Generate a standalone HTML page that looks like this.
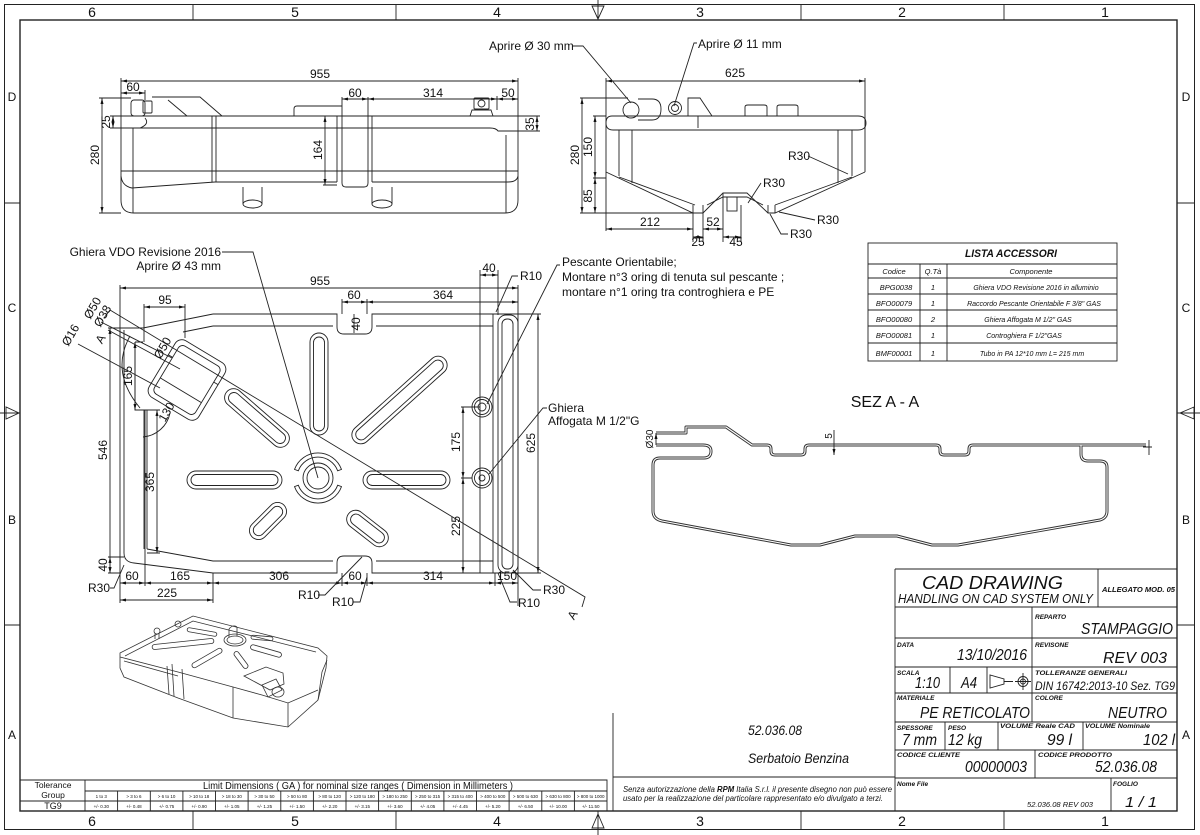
<!DOCTYPE html>
<html><head><meta charset="utf-8">
<style>
html,body{margin:0;padding:0;background:#fff;width:1200px;height:835px;overflow:hidden}
svg{display:block}
text{font-family:"Liberation Sans",Arial,sans-serif;fill:#111;stroke:none}
.d{font-size:12px}
.m{text-anchor:middle}
.e{text-anchor:end}
.i{font-style:italic}
.t{font-size:6.5px;font-style:italic;font-weight:bold}
.v{font-size:16px;font-style:italic}
</style></head><body>
<svg xmlns="http://www.w3.org/2000/svg" width="1200" height="835" viewBox="0 0 1200 835">
<defs><marker id="a" viewBox="0 0 8 4" refX="8" refY="2" markerWidth="7" markerHeight="3" markerUnits="userSpaceOnUse" orient="auto-start-reverse"><path d="M0,0L8,2L0,4z" fill="#111"/></marker></defs>
<rect width="1200" height="835" fill="#fff"/>
<g fill="none" stroke="#222" stroke-width="0.9">
<!-- FRAME -->
<rect x="4.5" y="4.5" width="1190" height="825" stroke-width="1"/>
<rect x="20" y="20" width="1157" height="791" stroke-width="1.4"/>
<path d="M193,4 V20 M396,4 V20 M801,4 V20 M1004,4 V20 M193,811 V829 M396,811 V829 M801,811 V829 M1004,811 V829 M4,203 H20 M4,625 H20 M1177,203 H1195 M1177,625 H1195"/>
<path d="M598,0 V20 M592,6 H604 L598,19 Z M598,811 V835 M592,828 H604 L598,814 Z M0,413 H20 M6,407 V419 L19,413 Z M1177,413 H1200 M1194,407 V419 L1180,413 Z"/>

<!-- FRONT VIEW -->
<path d="M121,78 V200 Q121,213 134,213 H505 Q518,213 518,200 V78"/>
<path d="M121,116 H540 M121,128 H490 Q496,128 498,131 H540"/>
<path d="M133,128 V213 M506,135 V213"/>
<path d="M121,171 H518"/>
<path d="M121,176 Q122,186 132,188 L215,182 H337 M372,182 H508 Q517,182 518,176"/>
<path d="M212,116 V182 M216,116 V182"/>
<path d="M337,116 V182 M372,116 V182 M342,97 V183 Q342,187 346,187 H364 Q368,187 368,183 V97"/>
<path d="M294,116 V109 Q294,106 297,106 H342"/>
<path d="M243,187 V204 M262,187 V204 M372,187 V204 M392,187 V204"/>
<ellipse cx="252.5" cy="204" rx="9.5" ry="4"/><ellipse cx="382" cy="204" rx="10" ry="4"/>
<rect x="131" y="100" width="14" height="16" rx="3"/>
<rect x="143" y="101" width="9" height="12" rx="1"/>
<path d="M152,97 H200 L222,116 M168,100 L187,116 M145,118 Q150,124 140,128"/>
<rect x="474" y="98" width="15" height="11" rx="1"/>
<circle cx="481.5" cy="103.5" r="3.5"/>
<path d="M470,116 L472,110 H491 L493,116"/>
<g marker-start="url(#a)" marker-end="url(#a)">
<path d="M121,81 H518"/><path d="M121,93 H145"/><path d="M102,98 V213"/><path d="M113,116 V128"/>
<path d="M325,116 V185"/><path d="M342,99 H368"/><path d="M368,99 H497"/><path d="M497,99 H518"/><path d="M537,116 V131"/>
</g>
<path d="M145,90 V100 M99,98 H131 M99,213 H121 M110,116 H121 M110,128 H121 M323,185 H337 M497,96 V110"/>

<!-- SIDE VIEW -->
<path d="M572,46 H583 L631,103"/>
<path d="M697,43 H694 L674,106"/>
<path d="M606,78 V231 M865,78 V172"/>
<path d="M612,116 H858 Q866,116 866,123 Q866,130 858,130 H613 Q606,130 606,123 Q606,116 612,116 Z"/>
<path d="M619,130 V176 M632,130 V183 M838,130 V183 M852,130 V176"/>
<path d="M606,172 L693,213 H703 L723,193 H747 L768,213 H775 L865,172"/>
<path d="M619,177 L695,205 M707,205 L723,197 H747 L763,205 M775,205 L852,177 M693,205 V213 M703,205 V213 M768,205 V213 M775,205 V213"/>
<rect x="727" y="197" width="10" height="14"/>
<circle cx="631" cy="110" r="8"/>
<path d="M638,99 H652 Q661,99 661,109 Q661,120 652,120 H638"/>
<circle cx="675" cy="108" r="6.5"/><circle cx="675" cy="108" r="3.5"/>
<path d="M688,116 V98 H700 L712,116 M698,116 V128"/>
<path d="M745,116 V107 Q745,105 748,105 H764 Q767,105 767,107 V116 M777,116 V107 Q777,105 780,105 H795 Q798,105 798,107 V116"/>
<g marker-start="url(#a)" marker-end="url(#a)">
<path d="M606,81 H865"/><path d="M582,98 V213"/><path d="M595,116 V178"/><path d="M595,178 V213"/>
<path d="M606,229 H693"/><path d="M703,229 H723"/><path d="M693,237 H703"/><path d="M723,237 H741"/>
</g>
<path d="M580,98 H628 M580,213 H693 M593,116 H606 M593,178 H606 M693,213 V242 M703,213 V242 M723,193 V242 M741,205 V242"/>
<path d="M808,156 L848,174 M761,183 L748,203 M815,220 L779,212 M788,234 H781 L770,214"/>

<!-- ACCESSORY TABLE -->
<rect x="868" y="243" width="249" height="118"/>
<path d="M868,264 H1117 M868,278 H1117 M868,294 H1117 M868,310 H1117 M868,326 H1117 M868,343 H1117 M920,264 V361 M947,264 V361"/>

<!-- MAIN TOP VIEW -->
<path d="M120,285 V603 M518,285 V606"/>
<path d="M213,314 H337 V327 Q337,334 344,334 H365 Q372,334 372,327 V314 H518"/>
<path d="M213,326 H333 M376,326 H493"/>
<path d="M213,314 L143,328 M213,326 L183,332"/>
<path d="M124,330 V553 Q124,562 134,563 L213,573 H337 V563 Q337,556 344,556 H365 Q372,556 372,563 V573 H518"/>
<path d="M147,549 L213,561 H333 M376,561 H493"/>
<path d="M144,410 V549 M147,410 V549"/>
<path d="M135,342 V410 H147 M135,342 H143"/>
<path d="M493,314 V573"/>
<rect x="498" y="315" width="20" height="258" rx="8"/>
<rect x="502" y="319" width="11" height="250" rx="5"/>
<path d="M518,314 H541 M518,573 H541"/>
<path d="M480,270 V573 M498,270 V315"/>
<circle cx="482" cy="407" r="10"/><circle cx="482" cy="407" r="7.5"/><circle cx="482" cy="407" r="4"/>
<circle cx="482" cy="478" r="10"/><circle cx="482" cy="478" r="7.5"/><circle cx="482" cy="478" r="3"/>
<path d="M461,407 H480 M461,478 H472"/>
<path d="M342,299 V314 M367,299 V314 M144,304 V342 M185,304 V338"/>
<path d="M145,410 V586 M213,573 V603 M342,573 V586 M367,573 V586 M495,573 V586"/>
<path d="M108,328 H143 M108,557 H124 M108,573 H120 M147,410 H160 M147,553 H160"/>
<path d="M354,314 V333"/>
<g marker-start="url(#a)" marker-end="url(#a)">
<path d="M120,288 H518"/>
<path d="M538,314 V573"/>
<path d="M480,275 H498"/>
<path d="M463,407 V478"/><path d="M463,478 V573"/>
<path d="M342,302 H367"/><path d="M367,302 H518"/>
<path d="M144,307 H185"/>
<path d="M120,583 H145"/><path d="M145,583 H213"/><path d="M213,583 H342"/><path d="M342,583 H367"/><path d="M367,583 H495"/><path d="M495,583 H518"/>
<path d="M120,600 H213"/>
<path d="M110,328 V573"/><path d="M110,557 V573"/>
<path d="M135,342 V410"/><path d="M157,410 V553"/>
</g>
<!-- slots -->
<g transform="translate(319,384) rotate(90)"><rect x="-51" y="-9" width="102" height="18" rx="9"/><rect x="-47" y="-5.5" width="94" height="11" rx="5.5"/></g>
<g transform="translate(399.5,400) rotate(-42)"><rect x="-61" y="-9" width="122" height="18" rx="9"/><rect x="-57" y="-5.5" width="114" height="11" rx="5.5"/></g>
<g transform="translate(406.5,480)"><rect x="-43.5" y="-9" width="87" height="18" rx="9"/><rect x="-39.5" y="-5.5" width="79" height="11" rx="5.5"/></g>
<g transform="translate(367.5,528.5) rotate(38)"><rect x="-24" y="-9" width="48" height="18" rx="9"/><rect x="-20" y="-5.5" width="40" height="11" rx="5.5"/></g>
<g transform="translate(234.5,480)"><rect x="-47.5" y="-9" width="95" height="18" rx="9"/><rect x="-43.5" y="-5.5" width="87" height="11" rx="5.5"/></g>
<g transform="translate(257,418) rotate(41)"><rect x="-40" y="-9" width="80" height="18" rx="9"/><rect x="-36" y="-5.5" width="72" height="11" rx="5.5"/></g>
<g transform="translate(268,521) rotate(-45)"><rect x="-22.5" y="-9" width="45" height="18" rx="9"/><rect x="-18.5" y="-5.5" width="37" height="11" rx="5.5"/></g>
<!-- cap -->
<circle cx="318" cy="478" r="15"/><circle cx="318" cy="478" r="11"/>
<path d="M294.5,469.4 A25,25 0 0 1 341.5,469.4 L337.7,470.8 A21,21 0 0 0 298.3,470.8 Z"/>
<path d="M341.5,486.6 A25,25 0 0 1 294.5,486.6 L298.3,485.2 A21,21 0 0 0 337.7,485.2 Z"/>
<!-- filler block -->
<g transform="translate(187,380) rotate(31)"><rect x="-29" y="-33" width="58" height="66" rx="8"/><rect x="-24" y="-28" width="48" height="56" rx="5"/><path d="M-29,-12 H-24 M24,-12 H29 M-24,12 H24"/></g>
<path d="M130,336 Q110,372 140,408 M143,437 A30,30 0 0 0 170,413"/>
<path d="M101,322 L172,358 M108,330 L180,369 M78,344 L160,388"/>
<!-- leaders -->
<path d="M222,252 H253 L318,478"/>
<path d="M560,265 H557 L487,404"/>
<path d="M547,408 H543 L489,474"/>
<path d="M110,310 L585,597 L582,607 M110,310 L104,318"/>
<path d="M110,588 H114 L124,565"/>
<path d="M541,590 H533 L513,570"/>
<path d="M517,602 H510 L498,573"/>
<path d="M318,595 H325 L362,557"/>
<path d="M353,602 H360 L367,577"/>
<path d="M518,276 H512 L496,312"/>

<!-- 3D VIEW -->
<g stroke="#333" stroke-width="0.8">
<path d="M120,653 L193,616 L318,648 L327,656 L326,668 L318,700 L288,727 L233,718 L178,698 L124,677 L120,668 Z"/>
<path d="M120,657 L178,672 L233,687 L262,695 L288,703 L318,690 M124,661 L178,676"/>
<path d="M125,656 L193,621 L316,652"/>
<path d="M233,687 V718 M288,703 V727 M167,666 L169,694 M182,669 L184,699 M172,664 L174,696 M318,700 L322,672 L327,660"/>
<g transform="translate(183,644) rotate(-6)"><rect x="-31" y="-2.5" width="62" height="5" rx="2.5"/></g>
<g transform="translate(202,632) rotate(10)"><rect x="-15" y="-2" width="30" height="4" rx="2"/></g>
<g transform="translate(207,658) rotate(-30)"><rect x="-17" y="-2.5" width="34" height="5" rx="2.5"/></g>
<g transform="translate(241,660) rotate(53)"><rect x="-10" y="-2.5" width="20" height="5" rx="2.5"/></g>
<g transform="translate(266,651) rotate(16)"><rect x="-16" y="-2.5" width="32" height="5" rx="2.5"/></g>
<g transform="translate(262,638) rotate(5)"><rect x="-11" y="-2" width="22" height="4" rx="2"/></g>
<ellipse cx="235" cy="640" rx="11" ry="6"/><ellipse cx="235" cy="640" rx="8" ry="4"/>
<path d="M229,629 V637 M237,627 V636 M229,629 Q233,624 237,627"/>
<circle cx="157" cy="631" r="3"/><path d="M155,633 V639 M159,633 V639"/>
<circle cx="178" cy="624" r="3"/>
<path d="M244,676 L266,667 L283,673 L284,684 L270,690 Z"/>
<path d="M262,685 L276,679 L282,690 L268,697 Z"/>
<ellipse cx="278" cy="692" rx="6" ry="5"/>
</g>

<!-- TITLE BLOCK -->
<path d="M895,569 H1177 M895,569 V811 M895,607 H1177 M1098,569 V607 M895,638 H1177 M1032,607 V693 M895,667 H1177 M950,667 V693 M987,667 V693 M895,693 H1177 M1032,693 V722 M895,722 H1177 M945,722 V750 M998,722 V750 M1083,722 V750 M895,750 H1177 M1035,750 V778 M895,778 H1177 M1111,778 V811"/>
<path d="M990,675 V688 L1004,684 V679 Z M1004,681.5 H1013 M1015,681.5 H1031 M1023,673 V690"/>
<circle cx="1023" cy="681.5" r="5"/><circle cx="1023" cy="681.5" r="2.5"/>
<!-- notes & tolerance -->
<path d="M613,713 V811 M613,777 H895"/>
<path d="M20,780 H607 V811 M85,780 V811 M85,791 H607 M20,801 H607"/>
<path d="M117.6,791 V811 M150.3,791 V811 M182.9,791 V811 M215.5,791 V811 M248.1,791 V811 M280.8,791 V811 M313.4,791 V811 M346,791 V811 M378.6,791 V811 M411.3,791 V811 M443.9,791 V811 M476.5,791 V811 M509.1,791 V811 M541.8,791 V811 M574.4,791 V811"/>
</g>

<!-- SECTION A-A (double lines) -->
<g fill="none" stroke-linejoin="round">
<g stroke="#333" stroke-width="3">
<path d="M656,445 H703 Q711,445 711,451 Q711,458 704,458 H660 Q653,458 653,465 V511 Q653,519 662,521 L791,545 H820 L855,536 H897 L932,545 H958 L1100,520 Q1107,518 1107,511 V467 Q1107,461 1100,461 H1088 Q1081,461 1081,454 V445"/>
<path d="M656,433 H686 V427 H726 L752,445 H767 Q771,445 771,449 V451 Q771,455 775,455 H801 Q805,455 805,451 V449 Q805,445 809,445 H936 Q940,445 940,449 V451 Q940,455 944,455 H965 Q969,455 969,451 V449 Q969,445 973,445 H1146"/>
</g>
<g stroke="#fff" stroke-width="1.1">
<path d="M656,445 H703 Q711,445 711,451 Q711,458 704,458 H660 Q653,458 653,465 V511 Q653,519 662,521 L791,545 H820 L855,536 H897 L932,545 H958 L1100,520 Q1107,518 1107,511 V467 Q1107,461 1100,461 H1088 Q1081,461 1081,454 V445"/>
<path d="M656,433 H686 V427 H726 L752,445 H767 Q771,445 771,449 V451 Q771,455 775,455 H801 Q805,455 805,451 V449 Q805,445 809,445 H936 Q940,445 940,449 V451 Q940,455 944,455 H965 Q969,455 969,451 V449 Q969,445 973,445 H1146"/>
</g>
<g stroke="#222" stroke-width="0.9">
<path d="M656,433 V445 M1149,440 V455 M1143,447 H1152" marker-start="url(#a)"/>
<path d="M834,430 V455" marker-end="url(#a)"/>
</g>
</g>

<!-- TEXT: zones -->
<g font-size="14" text-anchor="middle">
<text x="92" y="17">6</text><text x="295" y="17">5</text><text x="497" y="17">4</text><text x="700" y="17">3</text><text x="902" y="17">2</text><text x="1105" y="17">1</text>
<text x="92" y="826">6</text><text x="295" y="826">5</text><text x="497" y="826">4</text><text x="700" y="826">3</text><text x="902" y="826">2</text><text x="1105" y="826">1</text>
</g>
<g font-size="12" text-anchor="middle">
<text x="12" y="101">D</text><text x="12" y="312">C</text><text x="12" y="524">B</text><text x="12" y="739">A</text>
<text x="1186" y="101">D</text><text x="1186" y="312">C</text><text x="1186" y="524">B</text><text x="1186" y="739">A</text>
</g>

<!-- TEXT: front view -->
<text class="d m" x="320" y="78">955</text>
<text class="d m" x="133" y="91">60</text>
<text class="d m" transform="translate(99,155) rotate(-90)">280</text>
<text class="d m" transform="translate(110,122) rotate(-90)">25</text>
<text class="d m" transform="translate(322,150) rotate(-90)">164</text>
<text class="d m" x="355" y="97">60</text>
<text class="d m" x="433" y="97">314</text>
<text class="d m" x="508" y="97">50</text>
<text class="d m" transform="translate(534,124) rotate(-90)">35</text>

<!-- TEXT: side view -->
<text class="d" x="489" y="50">Aprire Ø 30 mm</text>
<text class="d" x="698" y="48">Aprire Ø 11 mm</text>
<text class="d m" x="735" y="77">625</text>
<text class="d m" transform="translate(579,155) rotate(-90)">280</text>
<text class="d m" transform="translate(592,147) rotate(-90)">150</text>
<text class="d m" transform="translate(592,196) rotate(-90)">85</text>
<text class="d m" x="650" y="226">212</text>
<text class="d m" x="713" y="226">52</text>
<text class="d m" x="698" y="246">25</text>
<text class="d m" x="736" y="246">45</text>
<text class="d" x="788" y="160">R30</text>
<text class="d" x="763" y="187">R30</text>
<text class="d" x="817" y="224">R30</text>
<text class="d" x="790" y="238">R30</text>

<!-- TEXT: accessory table -->
<text x="965" y="257" font-size="11" font-style="italic" font-weight="bold" textLength="92" lengthAdjust="spacingAndGlyphs">LISTA ACCESSORI</text>
<g font-size="7.5" font-style="italic" text-anchor="middle">
<text x="894" y="274">Codice</text><text x="933" y="274">Q.Tà</text><text x="1031" y="274">Componente</text>
<text x="896" y="290">BPG0038</text><text x="933" y="290">1</text>
<text x="894" y="306">BFO00079</text><text x="933" y="306">1</text>
<text x="894" y="322">BFO00080</text><text x="933" y="322">2</text>
<text x="894" y="338">BFO00081</text><text x="933" y="338">1</text>
<text x="894" y="356">BMF00001</text><text x="933" y="356">1</text>
</g>
<g font-size="7" font-style="italic" text-anchor="middle">
<text x="1036" y="290">Ghiera VDO Revisione 2016 in alluminio</text>
<text x="1034" y="306">Raccordo Pescante Orientabile F 3/8" GAS</text>
<text x="1028" y="322">Ghiera Affogata M 1/2" GAS</text>
<text x="1024" y="338">Controghiera F 1/2"GAS</text>
<text x="1032" y="356">Tubo in PA 12*10 mm L= 215 mm</text>
</g>

<!-- TEXT: main top view -->
<text class="d e" x="221" y="256">Ghiera VDO Revisione 2016</text>
<text class="d e" x="221" y="270">Aprire Ø 43 mm</text>
<text class="d" x="562" y="266">Pescante Orientabile;</text>
<text class="d" x="562" y="281">Montare n°3 oring di tenuta sul pescante ;</text>
<text class="d" x="562" y="296">montare n°1 oring tra controghiera e PE</text>
<text class="d" x="548" y="412">Ghiera</text>
<text class="d" x="548" y="425">Affogata M 1/2"G</text>
<text class="d m" x="320" y="285">955</text>
<text class="d m" x="489" y="272">40</text>
<text class="d" x="520" y="280">R10</text>
<text class="d m" x="354" y="299">60</text>
<text class="d m" x="443" y="299">364</text>
<text class="d m" transform="translate(360,324) rotate(-90)">40</text>
<text class="d m" x="165" y="304">95</text>
<text class="d m" transform="translate(535,443) rotate(-90)">625</text>
<text class="d m" transform="translate(460,442) rotate(-90)">175</text>
<text class="d m" transform="translate(460,526) rotate(-90)">225</text>
<text class="d m" transform="translate(107,450) rotate(-90)">546</text>
<text class="d m" transform="translate(107,565) rotate(-90)">40</text>
<text class="d m" transform="translate(132,376) rotate(-90)">165</text>
<text class="d m" transform="translate(154,482) rotate(-90)">365</text>
<text class="d m" transform="translate(170,414) rotate(-60)">130</text>
<text class="d m" font-size="10" transform="translate(166,350) rotate(-60)">Ø50</text>
<text class="d m" transform="translate(96,310) rotate(-60)">Ø50</text>
<text class="d m" transform="translate(106,318) rotate(-60)">Ø38</text>
<text class="d m" transform="translate(74,337) rotate(-60)">Ø16</text>
<text class="d m" transform="translate(104,341) rotate(-60)">A</text>
<text class="d m" transform="translate(576,617) rotate(-60)">A</text>
<text class="d m" x="132" y="580">60</text>
<text class="d m" x="180" y="580">165</text>
<text class="d m" x="279" y="580">306</text>
<text class="d m" x="355" y="580">60</text>
<text class="d m" x="433" y="580">314</text>
<text class="d m" x="507" y="580">150</text>
<text class="d m" x="167" y="597">225</text>
<text class="d" x="88" y="592">R30</text>
<text class="d" x="543" y="594">R30</text>
<text class="d" x="518" y="607">R10</text>
<text class="d" x="298" y="599">R10</text>
<text class="d" x="332" y="606">R10</text>

<!-- TEXT: section -->
<text x="885" y="407" font-size="16" text-anchor="middle">SEZ A - A</text>
<text font-size="10" text-anchor="middle" transform="translate(653,439) rotate(-90)">Ø30</text>
<text font-size="10" text-anchor="middle" transform="translate(832,436) rotate(-90)">5</text>

<!-- TEXT: title block -->
<text x="922" y="589" font-size="18" font-style="italic" textLength="141" lengthAdjust="spacingAndGlyphs">CAD  DRAWING</text>
<text x="898" y="603" font-size="13" font-style="italic" textLength="195" lengthAdjust="spacingAndGlyphs">HANDLING  ON  CAD SYSTEM  ONLY</text>
<text x="1102" y="592" font-size="7" font-style="italic" font-weight="bold" textLength="73" lengthAdjust="spacingAndGlyphs">ALLEGATO MOD. 05</text>
<text class="t" x="1035" y="619">REPARTO</text>
<text class="v" x="1081" y="634" textLength="92" lengthAdjust="spacingAndGlyphs">STAMPAGGIO</text>
<text class="t" x="897" y="647">DATA</text>
<text class="v" x="957" y="660" textLength="70" lengthAdjust="spacingAndGlyphs">13/10/2016</text>
<text class="t" x="1035" y="647">REVISONE</text>
<text class="v" x="1103" y="663" textLength="64" lengthAdjust="spacingAndGlyphs">REV 003</text>
<text class="t" x="897" y="675">SCALA</text>
<text class="v" x="915" y="688" textLength="25" lengthAdjust="spacingAndGlyphs">1:10</text>
<text class="v" x="961" y="688" textLength="16" lengthAdjust="spacingAndGlyphs">A4</text>
<text class="t" x="1035" y="675" textLength="92" lengthAdjust="spacingAndGlyphs">TOLLERANZE GENERALI</text>
<text x="1035" y="690" font-size="12" font-style="italic" textLength="140" lengthAdjust="spacingAndGlyphs">DIN 16742:2013-10 Sez. TG9</text>
<text class="t" x="897" y="700">MATERIALE</text>
<text class="v" x="920" y="718" textLength="110" lengthAdjust="spacingAndGlyphs">PE RETICOLATO</text>
<text class="t" x="1035" y="700">COLORE</text>
<text class="v" x="1108" y="718" textLength="59" lengthAdjust="spacingAndGlyphs">NEUTRO</text>
<text class="t" x="897" y="730">SPESSORE</text>
<text class="v" x="902" y="745" textLength="35" lengthAdjust="spacingAndGlyphs">7 mm</text>
<text class="t" x="948" y="730">PESO</text>
<text class="v" x="948" y="745" textLength="34" lengthAdjust="spacingAndGlyphs">12 kg</text>
<text class="t" x="1000" y="728" textLength="75" lengthAdjust="spacingAndGlyphs">VOLUME Reale CAD</text>
<text class="v" x="1047" y="745" textLength="25" lengthAdjust="spacingAndGlyphs">99 l</text>
<text class="t" x="1085" y="728" textLength="65" lengthAdjust="spacingAndGlyphs">VOLUME Nominale</text>
<text class="v" x="1143" y="745" textLength="32" lengthAdjust="spacingAndGlyphs">102 l</text>
<text class="t" x="897" y="757" textLength="63" lengthAdjust="spacingAndGlyphs">CODICE CLIENTE</text>
<text class="v" x="965" y="772" textLength="62" lengthAdjust="spacingAndGlyphs">00000003</text>
<text class="t" x="1038" y="757" textLength="74" lengthAdjust="spacingAndGlyphs">CODICE PRODOTTO</text>
<text class="v" x="1095" y="772" textLength="62" lengthAdjust="spacingAndGlyphs">52.036.08</text>
<text class="t" x="897" y="786">Nome File</text>
<text x="1027" y="807" font-size="7" font-style="italic" textLength="66" lengthAdjust="spacingAndGlyphs">52.036.08 REV 003</text>
<text class="t" x="1113" y="786">FOGLIO</text>
<text x="1125" y="807" font-size="15" font-style="italic" textLength="32" lengthAdjust="spacingAndGlyphs">1 / 1</text>

<!-- TEXT: notes -->
<text x="748" y="735" font-size="14" font-style="italic" textLength="54" lengthAdjust="spacingAndGlyphs">52.036.08</text>
<text x="748" y="763" font-size="14" font-style="italic" textLength="101" lengthAdjust="spacingAndGlyphs">Serbatoio Benzina</text>
<text x="623" y="792" font-size="8" font-style="italic" textLength="269" lengthAdjust="spacingAndGlyphs">Senza autorizzazione della <tspan font-weight="bold">RPM</tspan> Italia S.r.l. il presente disegno non può essere</text>
<text x="623" y="801" font-size="8" font-style="italic" textLength="260" lengthAdjust="spacingAndGlyphs">usato per la realizzazione del particolare rappresentato e/o divulgato a terzi.</text>

<!-- TEXT: tolerance table -->
<text x="53" y="788" font-size="8.5" text-anchor="middle">Tolerance</text>
<text x="53" y="798" font-size="8.5" text-anchor="middle">Group</text>
<text x="53" y="809" font-size="9" text-anchor="middle">TG9</text>
<text x="203" y="789" font-size="10.5" textLength="310" lengthAdjust="spacingAndGlyphs">Limit Dimensions ( GA ) for nominal size ranges ( Dimension in Millimeters )</text>
<g font-size="4.5" text-anchor="middle">
<text x="101.3" y="798">1 to 3</text><text x="133.9" y="798">&gt; 3 to 6</text><text x="166.6" y="798">&gt; 6 to 10</text><text x="199.2" y="798">&gt; 10 to 18</text>
<text x="231.8" y="798">&gt; 18 to 30</text><text x="264.4" y="798">&gt; 30 to 50</text><text x="297.1" y="798">&gt; 50 to 80</text><text x="329.7" y="798">&gt; 80 to 120</text>
<text x="362.3" y="798">&gt; 120 to 180</text><text x="394.9" y="798">&gt; 180 to 250</text><text x="427.6" y="798">&gt; 250 to 315</text><text x="460.2" y="798">&gt; 315 to 400</text>
<text x="492.8" y="798">&gt; 400 to 500</text><text x="525.4" y="798">&gt; 500 to 630</text><text x="558.1" y="798">&gt; 630 to 800</text><text x="590.7" y="798">&gt; 800 to 1000</text>
<text x="101.3" y="808">+/- 0.30</text><text x="133.9" y="808">+/- 0.48</text><text x="166.6" y="808">+/- 0.75</text><text x="199.2" y="808">+/- 0.90</text>
<text x="231.8" y="808">+/- 1.05</text><text x="264.4" y="808">+/- 1.25</text><text x="297.1" y="808">+/- 1.50</text><text x="329.7" y="808">+/- 2.20</text>
<text x="362.3" y="808">+/- 3.15</text><text x="394.9" y="808">+/- 3.60</text><text x="427.6" y="808">+/- 4.05</text><text x="460.2" y="808">+/- 4.45</text>
<text x="492.8" y="808">+/- 5.20</text><text x="525.4" y="808">+/- 6.50</text><text x="558.1" y="808">+/- 10.00</text><text x="590.7" y="808">+/- 11.50</text>
</g>
</svg>
</body></html>
